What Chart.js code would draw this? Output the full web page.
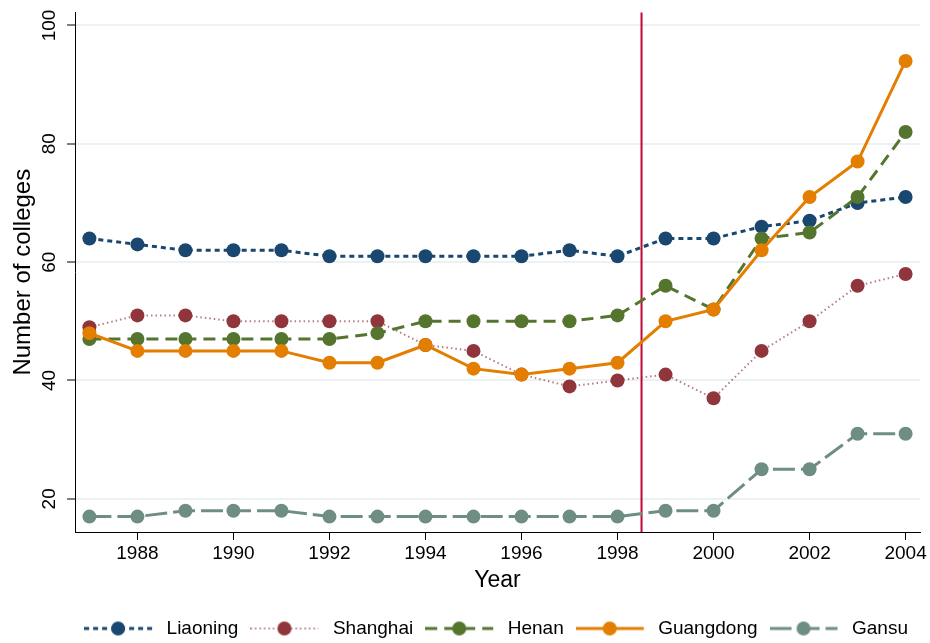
<!DOCTYPE html>
<html>
<head>
<meta charset="UTF-8">
<title>Number of colleges</title>
<script src="https://cdn.jsdelivr.net/npm/chart.js"></script>
<style>
  html, body { margin: 0; padding: 0; background: #fff; }
  #wrap { width: 930px; height: 643px; }
</style>
</head>
<body>
<div id="wrap"><canvas id="chart" width="930" height="643"></canvas></div>
<script>
// data
const years = [1987, 1988, 1989, 1990, 1991, 1992, 1993, 1994, 1995, 1996, 1997, 1998, 1999, 2000, 2001, 2002, 2003, 2004];
const liaoning  = [64, 63, 62, 62, 62, 61, 61, 61, 61, 61, 62, 61, 64, 64, 66, 67, 70, 71];
const shanghai  = [49, 51, 51, 50, 50, 50, 50, 46, 45, 41, 39, 40, 41, 37, 45, 50, 56, 58];
const henan     = [47, 47, 47, 47, 47, 47, 48, 50, 50, 50, 50, 51, 56, 52, 64, 65, 71, 82];
const guangdong = [48, 45, 45, 45, 45, 43, 43, 46, 42, 41, 42, 43, 50, 52, 62, 71, 77, 94];
const gansu     = [17, 17, 18, 18, 18, 17, 17, 17, 17, 17, 17, 17, 18, 18, 25, 25, 31, 31];
const xTicks = [1988, 1990, 1992, 1994, 1996, 1998, 2000, 2002, 2004];
const yTicks = [20, 40, 60, 80, 100];
const policyYear = 1998.5;

const FONT = "'Liberation Sans', Arial, Helvetica, sans-serif";

const series = [
  { label: 'Liaoning',  data: liaoning,  color: '#1a476f', dash: [5, 4],   width: 3 },
  { label: 'Shanghai',  data: shanghai,  color: '#90353b', dash: [1.5, 3], width: 2, lineColor: 'rgba(144,53,59,0.65)' },
  { label: 'Henan',     data: henan,     color: '#55752f', dash: [12, 7],  width: 3 },
  { label: 'Guangdong', data: guangdong, color: '#e37e00', dash: [],       width: 3 },
  { label: 'Gansu',     data: gansu,     color: '#6e8e84', dash: [22, 6],  width: 3 }
];

// legend symbol: line with the marker in the middle (a little blank room on the right)
function legendIcon(s) {
  const c = document.createElement('canvas');
  c.width = 73; c.height = 16;
  const g = c.getContext('2d');
  g.strokeStyle = s.lineColor || s.color;
  g.lineWidth = s.width;
  g.setLineDash(s.dash);
  g.beginPath(); g.moveTo(0, 8); g.lineTo(68, 8); g.stroke();
  g.setLineDash([]);
  g.fillStyle = s.color;
  g.beginPath(); g.arc(34, 8, 7, 0, Math.PI * 2); g.fill();
  return c;
}

const datasets = series.map((s, i) => ({
  label: s.label,
  data: years.map((y, k) => ({ x: y, y: s.data[k] })),
  borderColor: s.lineColor || s.color,
  backgroundColor: s.color,
  borderWidth: s.width,
  borderDash: s.dash,
  pointRadius: 7,
  pointHoverRadius: 7,
  pointBorderWidth: 0,
  pointBackgroundColor: s.color,
  tension: 0,
  order: series.length - i,
  icon: legendIcon(s)
}));

const vline = {
  id: 'vline',
  beforeDatasetsDraw(chart) {
    const { ctx, chartArea, scales } = chart;
    const x = scales.x.getPixelForValue(policyYear);
    ctx.save();
    ctx.strokeStyle = '#c10534';
    ctx.lineWidth = 2;
    ctx.beginPath();
    ctx.moveTo(x, chartArea.top);
    ctx.lineTo(x, chartArea.bottom);
    ctx.stroke();
    ctx.restore();
  }
};

new Chart(document.getElementById('chart'), {
  type: 'line',
  data: { datasets },
  plugins: [vline],
  options: {
    responsive: false,
    animation: false,
    events: [],
    layout: { padding: { left: 8, right: 10, top: 12, bottom: -5 } },
    scales: {
      x: {
        type: 'linear',
        min: 1986.7, max: 2004.3,
        afterBuildTicks: s => { s.ticks = xTicks.map(v => ({ value: v })); },
        grid: { display: true, drawOnChartArea: false, drawTicks: true, tickLength: 8, tickColor: '#000', tickWidth: 1 },
        border: { display: true, color: '#000', width: 1 },
        ticks: { color: '#000', font: { family: FONT, size: 19 }, padding: 2, maxRotation: 0, autoSkip: false,
                 callback: v => String(v) },
        title: { display: true, text: 'Year', color: '#000', font: { family: FONT, size: 23 }, padding: { top: 0, bottom: 12.6 } }
      },
      y: {
        min: 14.4, max: 102.2,
        afterBuildTicks: s => { s.ticks = yTicks.map(v => ({ value: v })); },
        grid: { color: '#eaf2f3', lineWidth: 2, drawTicks: true, tickLength: 8, tickColor: '#000', tickWidth: 1 },
        border: { display: true, color: '#000', width: 1 },
        ticks: { color: '#000', font: { family: FONT, size: 19 }, minRotation: 90, maxRotation: 90, crossAlign: 'center', padding: 1,
                 callback: v => String(v) },
        title: { display: true, text: 'Number of colleges', color: '#000', font: { family: FONT, size: 24 }, padding: { top: 1, bottom: 4.4 } }
      }
    },
    plugins: {
      tooltip: { enabled: false },
      legend: {
        position: 'bottom',
        align: 'end',
        labels: {
          usePointStyle: true,
          pointStyleWidth: 73,
          boxHeight: 16,
          padding: 12,
          color: '#000',
          font: { family: FONT, size: 19 },
          generateLabels: chart => chart.data.datasets.map((d, i) => ({
            text: d.label,
            pointStyle: d.icon,
            fillStyle: d.backgroundColor,
            strokeStyle: d.backgroundColor,
            lineWidth: 0,
            fontColor: '#000',
            datasetIndex: i,
            hidden: false
          }))
        }
      }
    }
  }
});
</script>
</body>
</html>
